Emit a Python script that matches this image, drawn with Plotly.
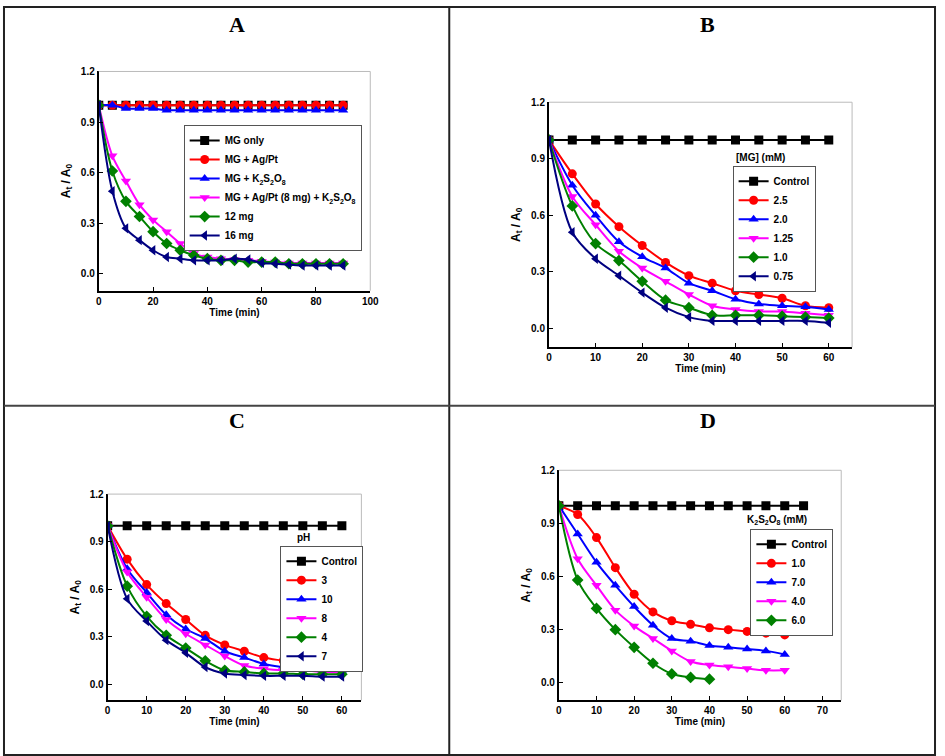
import plotly.graph_objects as go

W, H = 945, 756

# ---------------- data ----------------
# Panel A
time_a = [0, 5, 10, 15, 20, 25, 30, 35, 40, 45, 50, 55, 60, 65, 70, 75, 80, 85, 90]
a_mg_only = [1.00, 1.00, 1.00, 1.00, 1.00, 1.00, 1.00, 1.00, 1.00, 1.00, 1.00, 1.00, 1.00, 1.00, 1.00, 1.00, 1.00, 1.00, 1.00]
a_ag_pt = [1.00, 1.00, 1.00, 1.00, 1.00, 1.00, 1.00, 1.00, 1.00, 1.00, 1.00, 1.00, 1.00, 1.00, 1.00, 1.00, 1.00, 1.00, 1.00]
a_k2s2o8 = [1.00, 1.00, 0.98, 0.98, 0.98, 0.97, 0.97, 0.97, 0.97, 0.97, 0.97, 0.97, 0.97, 0.97, 0.97, 0.97, 0.97, 0.97, 0.97]
a_8mg = [1.00, 0.70, 0.55, 0.41, 0.32, 0.25, 0.18, 0.12, 0.10, 0.09, 0.085, 0.08, 0.075, 0.07, 0.065, 0.065, 0.065, 0.065, 0.065]
a_12mg = [1.00, 0.61, 0.43, 0.34, 0.25, 0.18, 0.14, 0.11, 0.09, 0.08, 0.08, 0.07, 0.07, 0.07, 0.06, 0.06, 0.06, 0.06, 0.06]
a_16mg = [1.00, 0.49, 0.27, 0.20, 0.14, 0.10, 0.09, 0.08, 0.08, 0.08, 0.09, 0.085, 0.065, 0.06, 0.055, 0.05, 0.05, 0.05, 0.05]
names_a = ["MG only", "MG + Ag/Pt", "MG + K<sub>2</sub>S<sub>2</sub>O<sub>8</sub>",
           "MG + Ag/Pt (8 mg) + K<sub>2</sub>S<sub>2</sub>O<sub>8</sub>", "12 mg", "16 mg"]

# Panel B
time_b = [0, 5, 10, 15, 20, 25, 30, 35, 40, 45, 50, 55, 60]
b_control = [1.00, 1.00, 1.00, 1.00, 1.00, 1.00, 1.00, 1.00, 1.00, 1.00, 1.00, 1.00, 1.00]
b_25 = [1.00, 0.82, 0.66, 0.54, 0.44, 0.35, 0.28, 0.24, 0.20, 0.18, 0.16, 0.12, 0.11]
b_20 = [1.00, 0.76, 0.60, 0.46, 0.38, 0.32, 0.24, 0.20, 0.155, 0.13, 0.12, 0.115, 0.10]
b_125 = [1.00, 0.70, 0.55, 0.41, 0.32, 0.25, 0.18, 0.12, 0.10, 0.09, 0.09, 0.08, 0.07]
b_10 = [1.00, 0.65, 0.45, 0.36, 0.25, 0.15, 0.11, 0.07, 0.07, 0.07, 0.065, 0.06, 0.055]
b_075 = [1.00, 0.51, 0.37, 0.28, 0.19, 0.11, 0.06, 0.04, 0.04, 0.04, 0.04, 0.04, 0.03]
names_b = ["Control", "2.5", "2.0", "1.25", "1.0", "0.75"]

# Panel C
time_c = [0, 5, 10, 15, 20, 25, 30, 35, 40, 45, 50, 55, 60]
c_control = [1.00, 1.00, 1.00, 1.00, 1.00, 1.00, 1.00, 1.00, 1.00, 1.00, 1.00, 1.00, 1.00]
c_ph3 = [1.00, 0.79, 0.63, 0.51, 0.41, 0.31, 0.25, 0.21, 0.17, 0.15, 0.13, 0.12, 0.11]
c_ph10 = [1.00, 0.73, 0.58, 0.44, 0.35, 0.29, 0.21, 0.17, 0.13, 0.11, 0.095, 0.09, 0.09]
c_ph8 = [1.00, 0.71, 0.55, 0.41, 0.32, 0.25, 0.18, 0.12, 0.10, 0.09, 0.09, 0.08, 0.075]
c_ph4 = [1.00, 0.62, 0.43, 0.31, 0.23, 0.15, 0.09, 0.08, 0.07, 0.07, 0.065, 0.065, 0.065]
c_ph7 = [1.00, 0.54, 0.40, 0.28, 0.20, 0.11, 0.07, 0.06, 0.055, 0.055, 0.055, 0.05, 0.05]
names_c = ["Control", "3", "10", "8", "4", "7"]

# Panel D
time_d_control = [0, 5, 10, 15, 20, 25, 30, 35, 40, 45, 50, 55, 60, 65]
time_d = [0, 5, 10, 15, 20, 25, 30, 35, 40, 45, 50, 55, 60]
time_d_short = [0, 5, 10, 15, 20, 25, 30, 35, 40]
d_control = [1.00, 1.00, 1.00, 1.00, 1.00, 1.00, 1.00, 1.00, 1.00, 1.00, 1.00, 1.00, 1.00, 1.00]
d_10 = [1.00, 0.95, 0.82, 0.65, 0.50, 0.40, 0.35, 0.33, 0.31, 0.30, 0.29, 0.28, 0.27]
d_70 = [1.00, 0.84, 0.68, 0.55, 0.43, 0.325, 0.25, 0.235, 0.21, 0.20, 0.19, 0.18, 0.16]
d_40 = [1.00, 0.70, 0.55, 0.41, 0.32, 0.25, 0.18, 0.12, 0.10, 0.09, 0.08, 0.07, 0.07]
d_60 = [1.00, 0.58, 0.42, 0.30, 0.20, 0.11, 0.05, 0.03, 0.02]
names_d = ["Control", "1.0", "7.0", "4.0", "6.0"]

y_ticks = [0.0, 0.3, 0.6, 0.9, 1.2]

# ---------------- styles ----------------
colors = ["#000000", "#FF0000", "#0000FF", "#FF00FF", "#008000", "#000080"]
symbols = ["square", "circle", "triangle-up", "triangle-down", "diamond", "triangle-left"]
FONT = "Liberation Sans, Arial, sans-serif"

fig = go.Figure()

def add_series(xs, ys, idx, name, xa, ya, legend):
    fig.add_trace(go.Scatter(
        x=xs, y=ys, name=name, mode="lines+markers",
        line=dict(color=colors[idx], width=2, shape="spline", smoothing=0.9),
        marker=dict(symbol=symbols[idx], size=9, color=colors[idx]),
        xaxis=xa, yaxis=ya, legend=legend))

series_a = [a_mg_only, a_ag_pt, a_k2s2o8, a_8mg, a_12mg, a_16mg]
for i, ys in enumerate(series_a):
    add_series(time_a, ys, i, names_a[i], "x", "y", "legend")
series_b = [b_control, b_25, b_20, b_125, b_10, b_075]
for i, ys in enumerate(series_b):
    add_series(time_b, ys, i, names_b[i], "x2", "y2", "legend2")
series_c = [c_control, c_ph3, c_ph10, c_ph8, c_ph4, c_ph7]
for i, ys in enumerate(series_c):
    add_series(time_c, ys, i, names_c[i], "x3", "y3", "legend3")
add_series(time_d_control, d_control, 0, names_d[0], "x4", "y4", "legend4")
add_series(time_d, d_10, 1, names_d[1], "x4", "y4", "legend4")
add_series(time_d, d_70, 2, names_d[2], "x4", "y4", "legend4")
add_series(time_d, d_40, 3, names_d[3], "x4", "y4", "legend4")
add_series(time_d_short, d_60, 4, names_d[4], "x4", "y4", "legend4")

def px_x(p):
    return p / W

def px_y(p):
    return 1 - p / H

# plot areas in pixels: (left, right, top, bottom)
areas = {
    "": (97, 372, 66, 287),
    "2": (553, 860, 97, 344),
    "3": (106, 363, 492, 700),
    "4": (563, 849, 468, 700),
}
x_ranges = {"": [0, 100], "2": [0, 65], "3": [0, 65], "4": [0, 75]}
x_dticks = {"": 20, "2": 10, "3": 10, "4": 10}

layout = dict(
    width=W, height=H, margin=dict(l=0, r=0, t=0, b=0),
    paper_bgcolor="white", plot_bgcolor="white",
    font=dict(family=FONT, size=10, color="black"),
)
for k, (l, r, t, b) in areas.items():
    layout["xaxis" + k] = dict(
        domain=[px_x(l), px_x(r)], range=x_ranges[k], dtick=x_dticks[k], tick0=0,
        anchor="y" + k, showgrid=False, zeroline=False,
        showline=True, linecolor="black", linewidth=2,
        ticks="inside", ticklen=4, tickcolor="black", tickwidth=1,
        tickfont=dict(family=FONT, size=10, weight="bold"),
        title=dict(text="Time (min)", font=dict(family=FONT, size=10, weight="bold"), standoff=2),
    )
    layout["yaxis" + k] = dict(
        domain=[px_y(b), px_y(t)], range=[-0.1, 1.2], tickvals=y_ticks, tickformat=".1f",
        anchor="x" + k, showgrid=False, zeroline=False,
        showline=True, linecolor="black", linewidth=2,
        ticks="inside", ticklen=4, tickcolor="black", tickwidth=1,
        tickfont=dict(family=FONT, size=10, weight="bold"),
        title=dict(text="A<sub>t</sub> / A<sub>0</sub>", font=dict(family=FONT, size=12, weight="bold"), standoff=8),
    )

def legend_at(xp, yp):
    return dict(x=px_x(xp), y=px_y(yp), xanchor="left", yanchor="top",
                bgcolor="white", bordercolor="#555555", borderwidth=1,
                font=dict(family=FONT, size=10, weight="bold", color="black"),
                itemwidth=30, tracegroupgap=0)

layout["legend"] = legend_at(183, 120)
layout["legend2"] = legend_at(739, 161)
layout["legend3"] = legend_at(281, 544)
layout["legend4"] = legend_at(757, 527)

shapes = []
# outer frame and dividers
shapes.append(dict(type="rect", xref="paper", yref="paper", x0=px_x(1), x1=px_x(944), y0=px_y(755), y1=px_y(1),
                   line=dict(color="#222222", width=2)))
shapes.append(dict(type="line", xref="paper", yref="paper", x0=px_x(452), x1=px_x(452), y0=px_y(755), y1=px_y(1),
                   line=dict(color="#222222", width=2)))
shapes.append(dict(type="line", xref="paper", yref="paper", x0=px_x(1), x1=px_x(944), y0=px_y(403), y1=px_y(403),
                   line=dict(color="#444444", width=2)))
# gray top/right frame of each plot area
for k in areas:
    xr = "x" + k + " domain" if k else "x domain"
    yr = "y" + k + " domain" if k else "y domain"
    shapes.append(dict(type="line", xref=xr, yref=yr, x0=0, x1=1, y0=1, y1=1,
                       line=dict(color="#BBBBBB", width=1)))
    shapes.append(dict(type="line", xref=xr, yref=yr, x0=1, x1=1, y0=0, y1=1,
                       line=dict(color="#BBBBBB", width=1)))
layout["shapes"] = shapes

annotations = []
for label, cx, cy in [("A", 237, 19), ("B", 714, 19), ("C", 237, 418), ("D", 714, 418)]:
    annotations.append(dict(text=label, x=px_x(cx), y=px_y(cy), xref="paper", yref="paper",
                            showarrow=False, xanchor="center", yanchor="middle",
                            font=dict(family="Liberation Serif, Times New Roman, serif", size=22, weight="bold", color="black")))
for text, lx, cy in [("[MG] (mM)", 740, 153), ("pH", 296, 536), ("K<sub>2</sub>S<sub>2</sub>O<sub>8</sub> (mM)", 752, 518)]:
    annotations.append(dict(text=text, x=px_x(lx), y=px_y(cy), xref="paper", yref="paper",
                            showarrow=False, xanchor="left", yanchor="middle",
                            font=dict(family=FONT, size=10, weight="bold", color="black")))
layout["annotations"] = annotations

fig.update_layout(**layout)
fig.write_html("out.html")
